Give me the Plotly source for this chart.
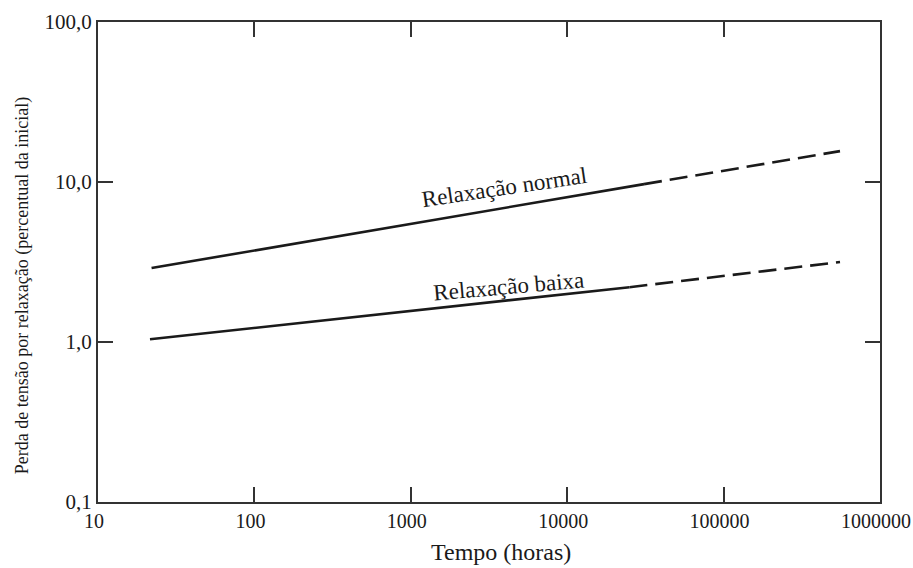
import plotly.graph_objects as go

# Data
x_ticks = [10, 100, 1000, 10000, 100000, 1000000]
x_ticktext = ["10", "100", "1000", "10000", "100000", "1000000"]
y_ticks = [0.1, 1, 10, 100]
y_ticktext = ["0,1", "1,0", "10,0", "100,0"]

normal_solid_x = [22, 31000]
normal_solid_y = [2.9, 9.7]
normal_dash_x = [31000, 555000]
normal_dash_y = [9.7, 15.6]

low_solid_x = [21.5, 25000]
low_solid_y = [1.04, 2.2]
low_dash_x = [25000, 555000]
low_dash_y = [2.2, 3.16]

x_title = "Tempo (horas)"
y_title = "Perda de tensão por relaxação (percentual da inicial)"

FONT = "Liberation Serif"
INK = "#1a1a1a"

fig = go.Figure()
for xs, ys, dash in [
    (normal_solid_x, normal_solid_y, "solid"),
    (normal_dash_x, normal_dash_y, "18px,8px"),
    (low_solid_x, low_solid_y, "solid"),
    (low_dash_x, low_dash_y, "18px,8px"),
]:
    fig.add_trace(go.Scatter(x=xs, y=ys, mode="lines",
                             line=dict(color=INK, width=2.6, dash=dash),
                             showlegend=False, hoverinfo="skip"))

fig.add_annotation(x=3.60, y=0.965, xref="x", yref="y", text="Relaxação normal",
                   showarrow=False, textangle=-8.5,
                   font=dict(family=FONT, size=23, color=INK))
fig.add_annotation(x=3.625, y=0.35, xref="x", yref="y", text="Relaxação baixa",
                   showarrow=False, textangle=-5,
                   font=dict(family=FONT, size=23, color=INK))

# axis titles placed as annotations to match their offset positions
fig.add_annotation(x=0.515, y=-0.104, xref="paper", yref="paper", text=x_title,
                   showarrow=False, xanchor="center", yanchor="middle",
                   font=dict(family=FONT, size=24, color=INK))
fig.add_annotation(x=-0.097, y=0.45, xref="paper", yref="paper", text=y_title,
                   showarrow=False, textangle=-90, xanchor="center", yanchor="middle",
                   font=dict(family=FONT, size=18, color=INK))

axis_common = dict(showgrid=False, zeroline=False, showline=True, linecolor="#333333",
                   linewidth=2, mirror="ticks", ticks="inside", ticklen=15,
                   tickwidth=1.8, tickcolor="#333333", ticklabeloverflow="allow",
                   automargin=False)

fig.update_xaxes(type="log", range=[1, 6], tickvals=x_ticks, ticktext=x_ticktext,
                 ticklabelshift=-4,
                 tickfont=dict(family=FONT, size=20, color=INK),
                 **axis_common)
fig.update_yaxes(type="log", range=[-1, 2], tickvals=y_ticks, ticktext=y_ticktext,
                 tickfont=dict(family=FONT, size=21, color=INK),
                 **axis_common)

fig.update_layout(width=913, height=568, margin=dict(l=98, r=33, t=22, b=66),
                  plot_bgcolor="white", paper_bgcolor="white",
                  font=dict(family=FONT, color=INK))

fig.write_html("out.html")
